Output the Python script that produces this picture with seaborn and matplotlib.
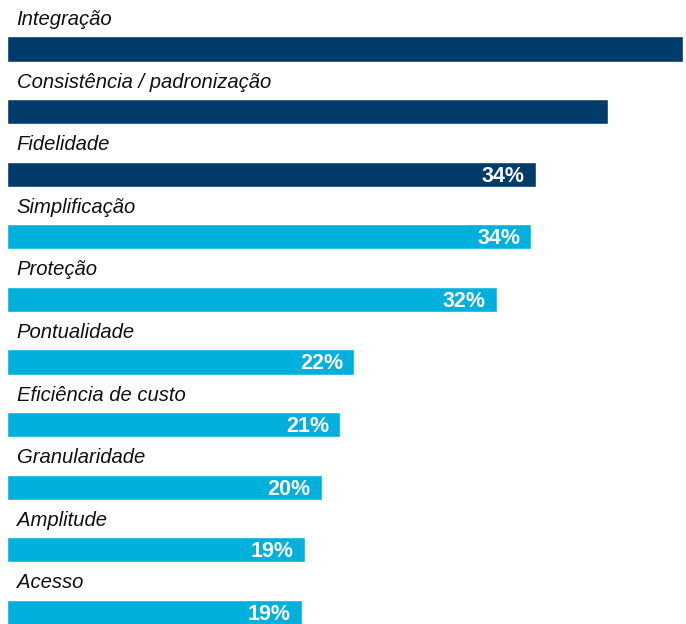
import matplotlib
matplotlib.use("Agg")
import matplotlib.pyplot as plt
import seaborn as sns
import pandas as pd

categories = ["Integração", "Consistência / padronização", "Fidelidade", "Simplificação",
              "Proteção", "Pontualidade", "Eficiência de custo", "Granularidade",
              "Amplitude", "Acesso"]
values = [43.6, 38.8, 34.1, 33.8, 31.6, 22.4, 21.5, 20.3, 19.2, 19.0]
value_labels = ["", "", "34%", "34%", "32%", "22%", "21%", "20%", "19%", "19%"]
groups = ["top", "top", "top", "rest", "rest", "rest", "rest", "rest", "rest", "rest"]

palette = {"top": "#003C69", "rest": "#00B0DC"}

df = pd.DataFrame({"cat": categories, "val": values, "grp": groups})

sns.set_theme(style="white")
plt.rcParams["font.family"] = ["Liberation Sans", "DejaVu Sans"]

fig = plt.figure(figsize=(6.86, 6.24), dpi=100)
ax = fig.add_axes([7 / 686, 0, 1 - 7 / 686, 1])

sns.barplot(data=df, x="val", y="cat", hue="grp", palette=palette, dodge=False,
            width=0.40, legend=False, ax=ax, saturation=1, orient="h")

px_per_unit = 15.5
ax.set_xlim(0, (686 - 7) / px_per_unit)
ax.set_ylim(9 + (624 - 49 - 9 * 62.6) / 62.6, -49 / 62.6)

for i, (cat, v, lab) in enumerate(zip(categories, values, value_labels)):
    ax.text(0.62, i - 0.47, cat, ha="left", va="center", fontsize=14.6,
            style="italic", color="#111111")
    if lab:
        ax.text(v - 0.7, i + 0.03, lab, ha="right", va="center", fontsize=15.5,
                fontweight="bold", color="white")

ax.set_axis_off()
fig.savefig("out.png", dpi=100)
